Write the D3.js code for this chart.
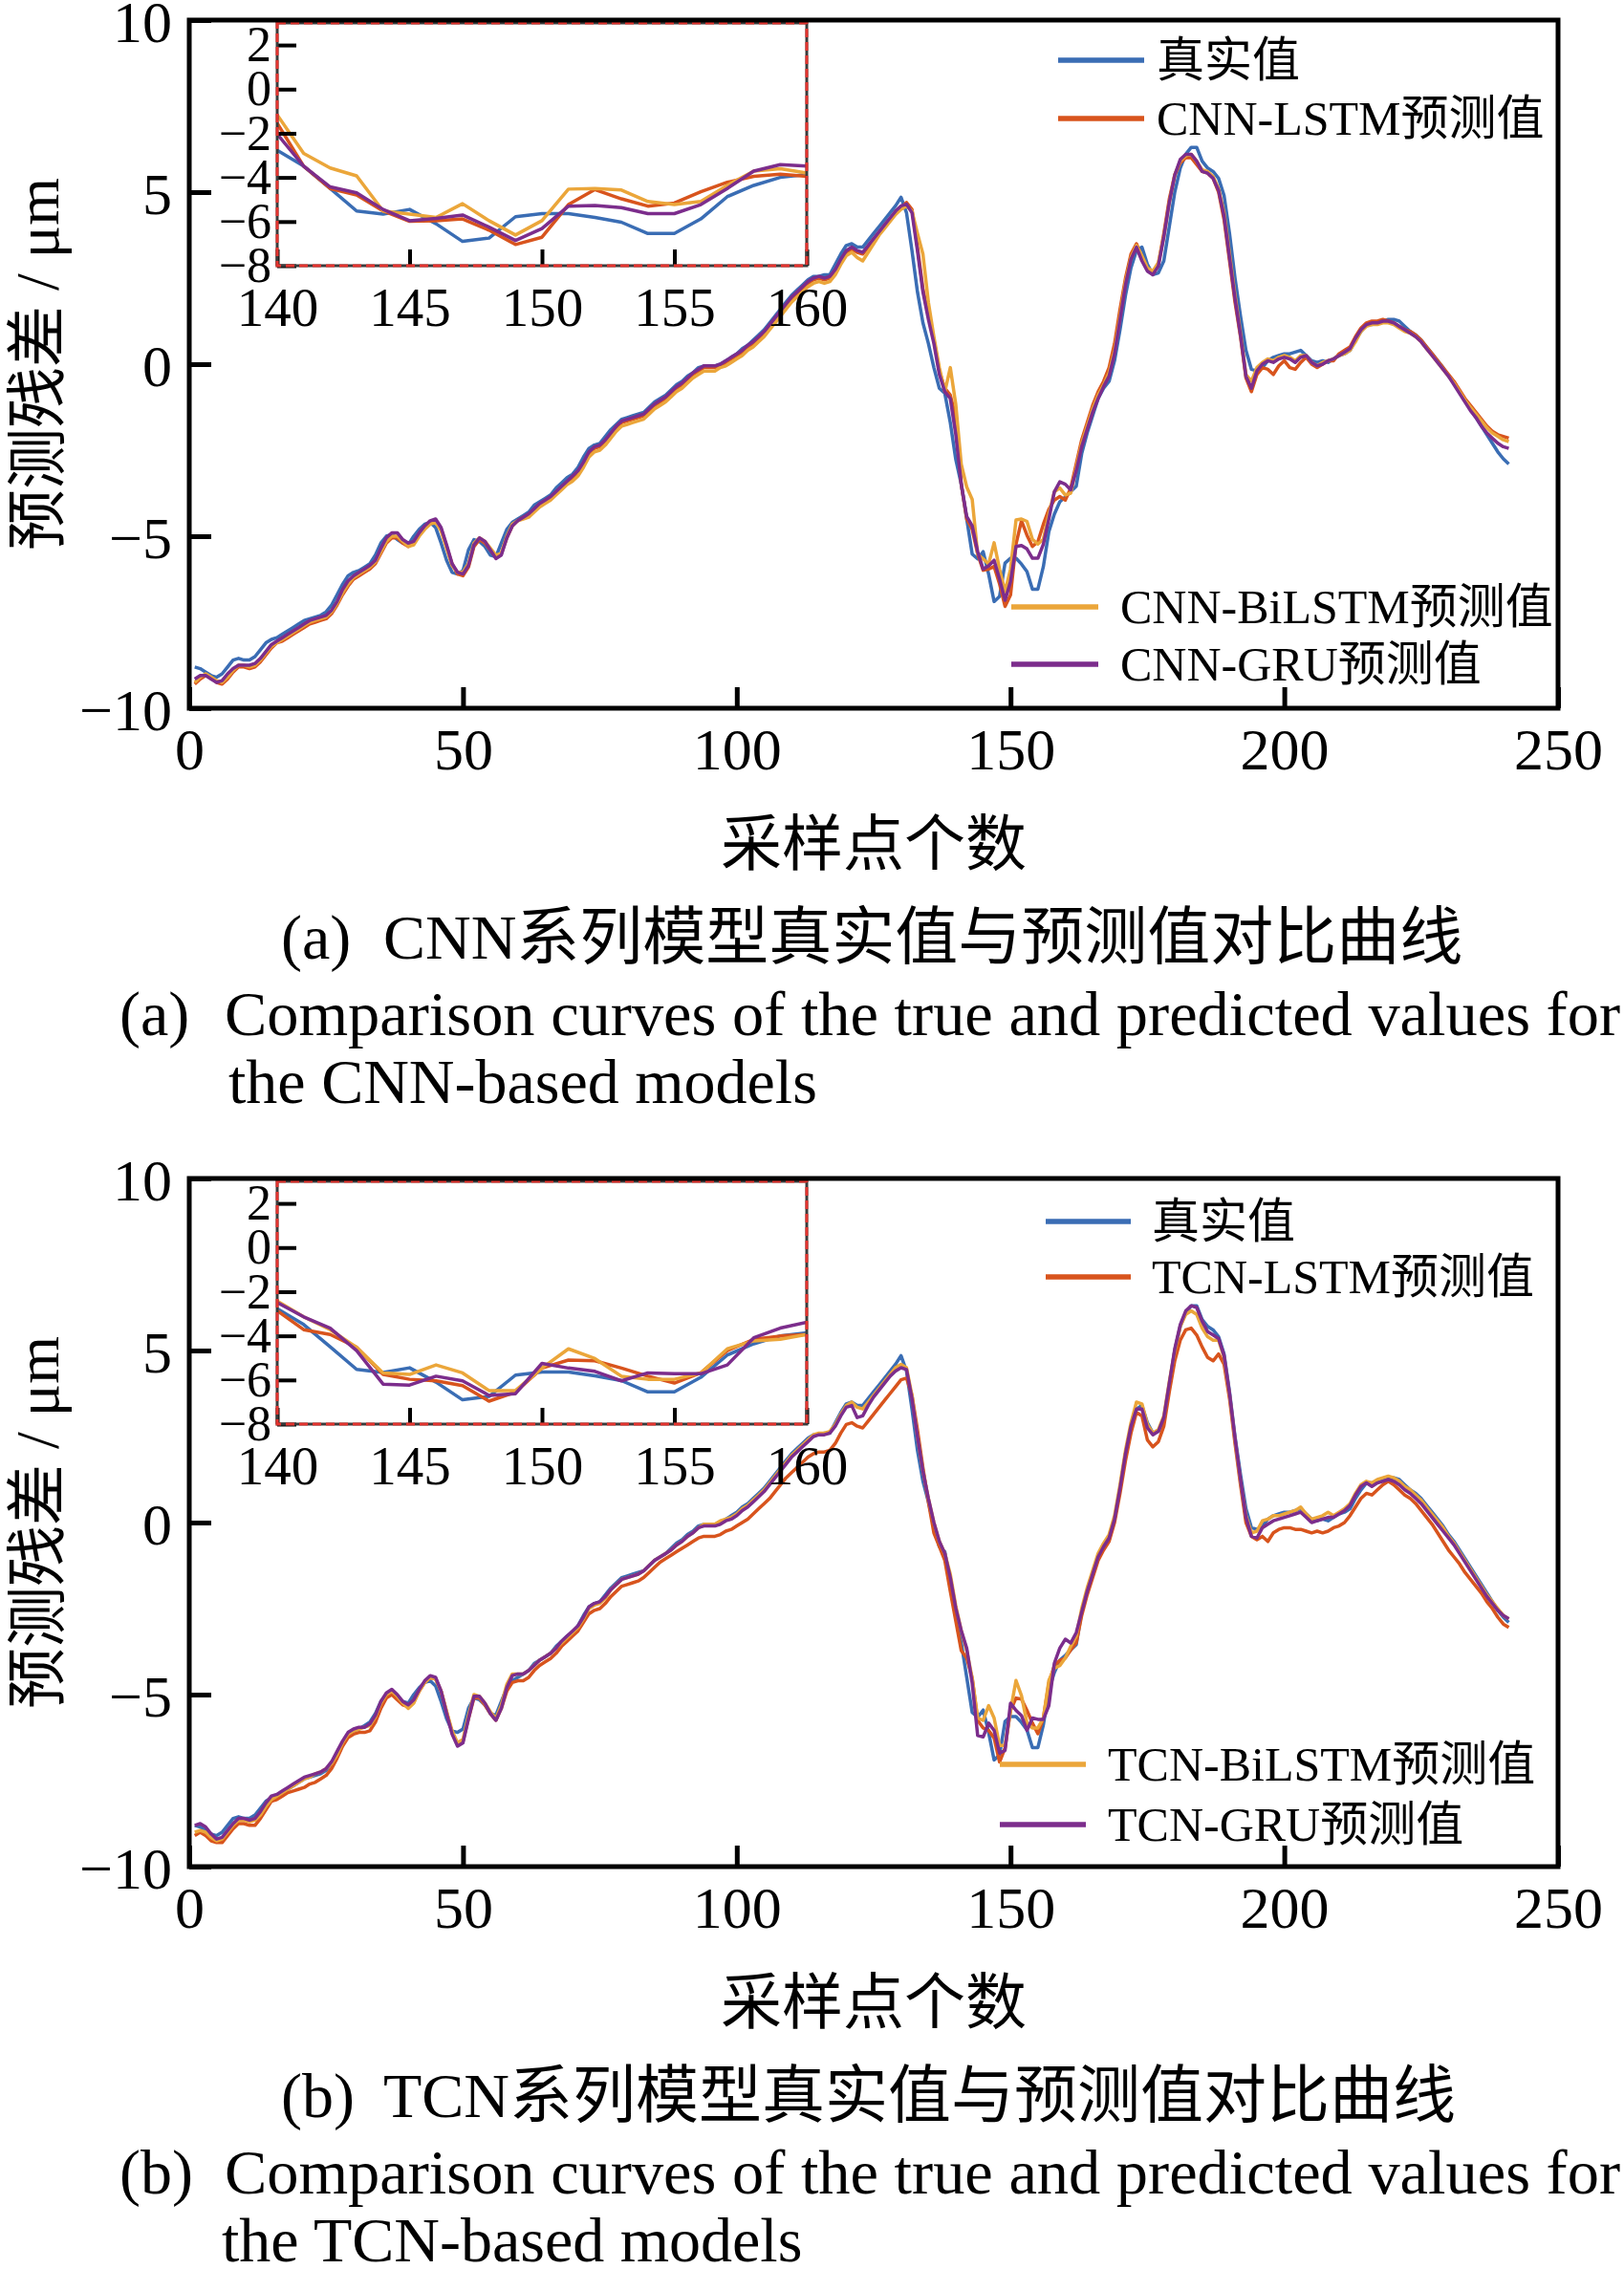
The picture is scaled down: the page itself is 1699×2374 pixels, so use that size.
<!DOCTYPE html>
<html>
<head>
<meta charset="utf-8">
<script src="https://cdn.jsdelivr.net/npm/d3@7"></script>
<style>
  body { margin: 0; background: #fff; }
  svg { display: block; }
</style>
</head>
<body>
<div id="chart"></div>
<script>
// 真实值 (shared by both panels), sample points 1..241
var truth = [
  -8.80,-8.85,-8.95,-9.05,-9.10,-9.00,-8.80,-8.60,-8.55,-8.60,
  -8.60,-8.50,-8.30,-8.10,-8.00,-7.95,-7.85,-7.75,-7.65,-7.55,
  -7.45,-7.40,-7.35,-7.30,-7.20,-7.00,-6.70,-6.40,-6.15,-6.05,
  -6.00,-5.90,-5.80,-5.55,-5.20,-5.00,-4.95,-5.10,-5.20,-5.25,
  -5.00,-4.80,-4.65,-4.60,-4.75,-5.20,-5.70,-6.05,-6.10,-6.00,
  -5.40,-5.10,-5.15,-5.30,-5.55,-5.60,-5.20,-4.80,-4.60,-4.50,
  -4.40,-4.30,-4.10,-4.00,-3.90,-3.80,-3.60,-3.45,-3.30,-3.20,
  -3.00,-2.70,-2.45,-2.35,-2.30,-2.10,-1.90,-1.75,-1.60,-1.55,
  -1.50,-1.45,-1.40,-1.25,-1.10,-1.00,-0.90,-0.75,-0.60,-0.50,
  -0.35,-0.25,-0.10,-0.05,-0.05,-0.05,0.00,0.10,0.20,0.30,
  0.45,0.55,0.70,0.85,1.00,1.20,1.40,1.60,1.80,2.00,
  2.15,2.30,2.45,2.55,2.55,2.60,2.60,2.90,3.20,3.45,
  3.50,3.40,3.40,3.60,3.80,4.00,4.20,4.40,4.60,4.85,
  4.40,3.30,2.10,1.20,0.60,-0.10,-0.70,-0.85,-1.70,-2.77,
  -3.49,-4.50,-5.52,-5.66,-5.45,-6.10,-6.90,-6.75,-5.78,-5.64,
  -5.64,-5.81,-6.03,-6.54,-6.54,-5.88,-4.87,-4.36,-4.00,-3.86,
  -3.70,-3.55,-2.60,-2.00,-1.50,-1.00,-0.70,-0.50,0.10,1.00,
  2.00,2.80,3.30,3.40,2.90,2.60,2.65,3.00,4.00,5.00,
  5.70,6.10,6.30,6.30,5.90,5.70,5.60,5.40,4.90,3.80,
  2.50,1.40,0.40,-0.15,-0.20,-0.10,0.10,0.20,0.25,0.30,
  0.30,0.35,0.40,0.25,0.10,0.05,0.10,0.05,0.15,0.25,
  0.30,0.40,0.70,0.95,1.15,1.15,1.20,1.25,1.30,1.30,
  1.25,1.10,0.95,0.85,0.70,0.50,0.30,0.10,-0.10,-0.35,
  -0.55,-0.80,-1.05,-1.30,-1.55,-1.80,-2.05,-2.30,-2.55,-2.75,
  -2.90
];

var cnnLstm = [
  -9.30,-9.15,-9.05,-9.10,-9.25,-9.30,-9.15,-8.95,-8.80,-8.80,
  -8.85,-8.80,-8.65,-8.45,-8.25,-8.10,-8.05,-7.95,-7.85,-7.75,
  -7.65,-7.55,-7.50,-7.45,-7.40,-7.25,-7.00,-6.70,-6.45,-6.25,
  -6.15,-6.05,-5.95,-5.80,-5.50,-5.20,-5.05,-5.05,-5.20,-5.30,
  -5.20,-4.95,-4.75,-4.60,-4.55,-4.80,-5.30,-5.80,-6.10,-6.15,
  -5.90,-5.30,-5.10,-5.20,-5.40,-5.60,-5.50,-5.05,-4.70,-4.55,
  -4.45,-4.40,-4.25,-4.10,-4.00,-3.90,-3.75,-3.60,-3.45,-3.30,
  -3.15,-2.90,-2.60,-2.45,-2.40,-2.25,-2.05,-1.85,-1.70,-1.65,
  -1.60,-1.55,-1.50,-1.35,-1.20,-1.10,-1.00,-0.85,-0.70,-0.60,
  -0.45,-0.30,-0.20,-0.10,-0.10,-0.10,-0.05,0.05,0.15,0.25,
  0.35,0.50,0.60,0.75,0.90,1.10,1.30,1.50,1.70,1.90,
  2.05,2.20,2.35,2.45,2.50,2.45,2.50,2.70,3.00,3.25,
  3.35,3.25,3.20,3.40,3.60,3.80,4.00,4.20,4.40,4.55,
  4.70,4.50,3.40,2.20,1.40,0.70,-0.20,-0.70,-0.90,-1.54,
  -3.49,-4.50,-4.80,-5.52,-5.99,-5.96,-5.88,-6.39,-7.04,-6.71,
  -5.23,-4.55,-4.97,-5.30,-5.16,-4.65,-4.22,-3.95,-3.85,-3.95,
  -3.60,-2.90,-2.20,-1.70,-1.20,-0.80,-0.50,-0.10,0.60,1.60,
  2.50,3.20,3.50,3.10,2.75,2.65,2.90,3.80,4.80,5.50,
  5.85,6.00,6.00,5.80,5.60,5.55,5.40,5.00,4.20,3.00,
  1.80,0.80,-0.40,-0.80,-0.30,-0.10,-0.15,-0.30,-0.05,0.10,
  -0.10,-0.15,0.05,0.20,0.00,-0.10,0.00,0.10,0.10,0.30,
  0.40,0.50,0.80,1.05,1.20,1.25,1.25,1.30,1.25,1.20,
  1.10,1.00,0.95,0.85,0.70,0.50,0.30,0.10,-0.10,-0.30,
  -0.50,-0.75,-1.00,-1.20,-1.40,-1.60,-1.80,-1.95,-2.05,-2.10,
  -2.15
];

var cnnBilstm = [
  -9.25,-9.10,-9.00,-9.10,-9.20,-9.25,-9.10,-8.90,-8.75,-8.75,
  -8.80,-8.75,-8.60,-8.40,-8.20,-8.10,-8.00,-7.90,-7.80,-7.70,
  -7.60,-7.50,-7.45,-7.40,-7.35,-7.20,-6.95,-6.65,-6.40,-6.20,
  -6.10,-6.00,-5.90,-5.75,-5.45,-5.15,-5.00,-5.00,-5.15,-5.30,
  -5.25,-5.00,-4.80,-4.65,-4.60,-4.85,-5.35,-5.85,-6.05,-6.05,
  -5.80,-5.20,-5.05,-5.15,-5.35,-5.55,-5.50,-5.00,-4.65,-4.55,
  -4.50,-4.45,-4.30,-4.15,-4.05,-3.95,-3.80,-3.65,-3.50,-3.40,
  -3.25,-3.00,-2.70,-2.55,-2.50,-2.35,-2.15,-1.95,-1.80,-1.75,
  -1.70,-1.65,-1.60,-1.45,-1.30,-1.20,-1.10,-0.95,-0.80,-0.70,
  -0.55,-0.40,-0.30,-0.20,-0.20,-0.20,-0.10,-0.05,0.05,0.15,
  0.25,0.40,0.50,0.65,0.80,1.00,1.20,1.40,1.60,1.80,
  1.95,2.10,2.25,2.35,2.40,2.35,2.40,2.60,2.90,3.15,
  3.25,3.10,3.00,3.25,3.50,3.75,3.95,4.15,4.35,4.50,
  4.60,4.45,3.80,3.20,1.80,0.80,-0.10,-0.80,-0.10,-1.17,
  -2.91,-3.57,-3.93,-5.52,-5.66,-5.81,-5.19,-5.96,-6.61,-5.96,
  -4.53,-4.50,-4.57,-5.09,-5.23,-5.09,-4.36,-3.71,-3.60,-3.80,
  -3.75,-3.00,-2.30,-1.80,-1.30,-0.90,-0.60,-0.25,0.40,1.40,
  2.40,3.10,3.45,3.15,2.80,2.70,2.95,3.70,4.70,5.50,
  5.90,6.05,6.10,5.90,5.65,5.60,5.45,5.10,4.40,3.20,
  2.00,0.90,-0.30,-0.50,-0.10,0.05,0.15,0.10,0.20,0.25,
  0.20,0.10,0.25,0.25,0.05,-0.05,0.05,0.10,0.15,0.25,
  0.30,0.40,0.65,0.95,1.10,1.15,1.15,1.20,1.20,1.15,
  1.05,0.95,0.90,0.80,0.65,0.45,0.25,0.05,-0.15,-0.35,
  -0.55,-0.80,-1.05,-1.25,-1.45,-1.65,-1.85,-2.00,-2.10,-2.20,
  -2.25
];

var cnnGru = [
  -9.15,-9.05,-9.05,-9.15,-9.25,-9.20,-9.00,-8.85,-8.75,-8.75,
  -8.75,-8.70,-8.55,-8.35,-8.15,-8.05,-7.95,-7.85,-7.75,-7.65,
  -7.55,-7.45,-7.40,-7.35,-7.30,-7.15,-6.90,-6.55,-6.30,-6.15,
  -6.05,-5.95,-5.85,-5.70,-5.35,-5.05,-4.90,-4.90,-5.10,-5.20,
  -5.15,-4.90,-4.70,-4.55,-4.50,-4.75,-5.25,-5.80,-6.05,-6.10,
  -5.85,-5.25,-5.05,-5.15,-5.40,-5.65,-5.55,-5.05,-4.70,-4.55,
  -4.45,-4.35,-4.20,-4.05,-3.95,-3.85,-3.70,-3.55,-3.40,-3.25,
  -3.10,-2.85,-2.55,-2.40,-2.35,-2.20,-2.00,-1.80,-1.65,-1.60,
  -1.55,-1.50,-1.45,-1.30,-1.15,-1.05,-0.95,-0.80,-0.65,-0.55,
  -0.40,-0.25,-0.15,-0.05,-0.05,-0.05,0.00,0.10,0.20,0.30,
  0.40,0.55,0.65,0.80,0.95,1.15,1.35,1.55,1.75,1.95,
  2.10,2.25,2.40,2.50,2.55,2.50,2.55,2.75,3.05,3.30,
  3.40,3.30,3.25,3.45,3.65,3.85,4.05,4.25,4.45,4.60,
  4.65,4.40,3.30,2.10,1.30,0.60,-0.30,-0.80,-1.00,-2.04,
  -3.49,-4.43,-4.70,-5.45,-5.96,-5.86,-5.70,-6.25,-6.86,-6.32,
  -5.30,-5.27,-5.37,-5.64,-5.64,-5.23,-4.50,-3.71,-3.42,-3.49,
  -3.65,-3.10,-2.40,-1.90,-1.40,-1.00,-0.65,-0.35,0.30,1.30,
  2.30,3.05,3.40,3.00,2.70,2.60,2.85,3.70,4.70,5.50,
  5.95,6.10,6.10,5.90,5.60,5.55,5.40,5.05,4.30,3.10,
  1.90,0.85,-0.35,-0.70,-0.20,0.00,0.10,0.05,0.15,0.20,
  0.15,0.05,0.20,0.25,0.05,-0.05,0.00,0.10,0.15,0.25,
  0.35,0.45,0.75,1.00,1.15,1.20,1.20,1.25,1.25,1.20,
  1.10,1.00,0.90,0.80,0.65,0.45,0.25,0.05,-0.15,-0.35,
  -0.60,-0.85,-1.10,-1.35,-1.55,-1.80,-2.00,-2.15,-2.30,-2.40,
  -2.45
];

var tcnLstm = [
  -9.10,-9.00,-9.10,-9.25,-9.30,-9.30,-9.10,-8.90,-8.75,-8.75,
  -8.80,-8.80,-8.60,-8.35,-8.10,-8.05,-7.95,-7.85,-7.80,-7.75,
  -7.70,-7.60,-7.55,-7.45,-7.35,-7.15,-6.85,-6.50,-6.25,-6.15,
  -6.10,-6.10,-6.05,-5.80,-5.40,-5.10,-5.00,-5.15,-5.30,-5.35,
  -5.20,-4.90,-4.65,-4.50,-4.55,-4.90,-5.50,-6.10,-6.45,-6.35,
  -5.70,-5.10,-5.10,-5.30,-5.55,-5.75,-5.40,-4.90,-4.65,-4.60,
  -4.60,-4.50,-4.30,-4.15,-4.05,-3.95,-3.80,-3.60,-3.45,-3.30,
  -3.15,-2.90,-2.65,-2.55,-2.50,-2.35,-2.15,-2.00,-1.85,-1.80,
  -1.75,-1.70,-1.60,-1.45,-1.30,-1.15,-1.05,-0.95,-0.85,-0.75,
  -0.65,-0.55,-0.45,-0.40,-0.40,-0.40,-0.35,-0.25,-0.20,-0.10,
  0.00,0.10,0.25,0.40,0.55,0.70,0.90,1.10,1.30,1.45,
  1.60,1.75,1.90,2.00,2.05,2.05,2.10,2.30,2.60,2.85,
  2.90,2.80,2.75,2.95,3.15,3.35,3.55,3.75,3.95,4.15,
  4.20,3.70,2.70,1.60,0.60,-0.30,-0.70,-1.10,-2.00,-2.86,
  -3.72,-3.94,-4.52,-5.75,-5.97,-6.04,-6.26,-6.96,-6.55,-5.46,
  -5.10,-5.13,-5.46,-5.83,-6.14,-5.68,-4.67,-4.16,-4.01,-3.94,
  -3.70,-3.50,-2.70,-2.10,-1.60,-1.10,-0.80,-0.55,0.00,0.85,
  1.80,2.60,3.20,3.10,2.40,2.20,2.35,2.80,3.80,4.70,
  5.30,5.60,5.65,5.45,5.10,4.80,4.70,4.90,4.60,3.60,
  2.30,1.10,0.00,-0.40,-0.50,-0.40,-0.55,-0.30,-0.20,-0.15,
  -0.15,-0.20,-0.20,-0.25,-0.30,-0.25,-0.30,-0.25,-0.15,-0.10,
  0.00,0.20,0.45,0.70,0.85,0.80,0.95,1.10,1.20,1.10,
  0.95,0.80,0.70,0.55,0.35,0.15,-0.05,-0.30,-0.55,-0.80,
  -1.00,-1.20,-1.45,-1.65,-1.85,-2.05,-2.30,-2.50,-2.75,-2.95,
  -3.05
];

var tcnBilstm = [
  -9.00,-8.95,-9.00,-9.15,-9.25,-9.20,-9.00,-8.80,-8.65,-8.65,
  -8.70,-8.65,-8.50,-8.25,-8.05,-7.95,-7.85,-7.75,-7.65,-7.55,
  -7.45,-7.40,-7.30,-7.25,-7.15,-7.00,-6.75,-6.40,-6.15,-6.05,
  -6.00,-5.95,-5.90,-5.65,-5.25,-5.00,-4.90,-5.05,-5.25,-5.40,
  -5.25,-4.90,-4.65,-4.50,-4.55,-4.90,-5.50,-6.05,-6.40,-6.30,
  -5.60,-5.00,-5.05,-5.25,-5.50,-5.70,-5.30,-4.70,-4.40,-4.40,
  -4.40,-4.30,-4.15,-4.00,-3.90,-3.80,-3.65,-3.50,-3.35,-3.20,
  -3.05,-2.80,-2.50,-2.40,-2.35,-2.20,-1.95,-1.80,-1.65,-1.60,
  -1.55,-1.50,-1.40,-1.25,-1.10,-1.00,-0.90,-0.80,-0.65,-0.55,
  -0.40,-0.30,-0.15,-0.05,-0.05,-0.05,0.05,0.10,0.15,0.25,
  0.40,0.50,0.65,0.80,0.95,1.15,1.35,1.55,1.75,1.95,
  2.10,2.25,2.40,2.55,2.60,2.60,2.65,2.85,3.15,3.40,
  3.50,3.35,3.30,3.50,3.70,3.90,4.10,4.30,4.50,4.60,
  4.50,3.70,2.50,1.50,0.70,0.00,-0.55,-0.90,-1.50,-2.42,
  -3.14,-3.72,-4.52,-5.68,-5.75,-5.32,-5.68,-6.48,-6.48,-5.46,
  -4.59,-5.03,-5.83,-5.97,-5.97,-5.68,-4.59,-4.23,-4.16,-3.94,
  -3.60,-3.30,-2.50,-1.90,-1.40,-0.90,-0.60,-0.35,0.20,1.10,
  2.10,2.90,3.50,3.45,2.85,2.60,2.70,3.10,4.10,5.00,
  5.70,6.05,6.15,6.05,5.65,5.40,5.30,5.30,4.80,3.70,
  2.40,1.20,0.20,-0.30,-0.25,0.05,0.10,0.20,0.20,0.25,
  0.30,0.35,0.45,0.25,0.10,0.15,0.20,0.30,0.20,0.30,
  0.40,0.55,0.85,1.10,1.20,1.15,1.25,1.30,1.35,1.30,
  1.20,1.05,0.95,0.80,0.65,0.45,0.25,0.05,-0.15,-0.40,
  -0.60,-0.85,-1.10,-1.35,-1.60,-1.85,-2.10,-2.30,-2.50,-2.70,
  -2.80
];

var tcnGru = [
  -8.80,-8.75,-8.85,-9.05,-9.20,-9.15,-8.95,-8.75,-8.60,-8.60,
  -8.65,-8.60,-8.40,-8.15,-7.95,-7.90,-7.80,-7.70,-7.60,-7.50,
  -7.40,-7.35,-7.30,-7.25,-7.15,-6.95,-6.65,-6.35,-6.10,-6.00,
  -5.95,-5.95,-5.85,-5.60,-5.20,-4.95,-4.85,-5.00,-5.20,-5.30,
  -5.15,-4.85,-4.60,-4.45,-4.50,-4.90,-5.55,-6.15,-6.50,-6.40,
  -5.70,-5.05,-5.05,-5.25,-5.55,-5.75,-5.40,-4.80,-4.45,-4.40,
  -4.40,-4.30,-4.15,-4.00,-3.90,-3.80,-3.65,-3.45,-3.30,-3.15,
  -3.00,-2.75,-2.45,-2.35,-2.30,-2.15,-1.95,-1.80,-1.65,-1.60,
  -1.55,-1.50,-1.40,-1.25,-1.10,-1.00,-0.90,-0.80,-0.65,-0.55,
  -0.40,-0.30,-0.15,-0.10,-0.10,-0.10,-0.05,0.05,0.10,0.20,
  0.35,0.45,0.60,0.75,0.90,1.10,1.30,1.50,1.70,1.90,
  2.05,2.20,2.35,2.50,2.55,2.55,2.60,2.80,3.10,3.35,
  3.40,3.05,3.10,3.40,3.65,3.85,4.05,4.25,4.40,4.50,
  4.45,3.60,2.50,1.50,0.70,0.00,-0.55,-0.90,-1.60,-2.49,
  -3.14,-3.65,-4.67,-6.19,-6.23,-5.83,-6.04,-6.70,-6.62,-5.25,
  -5.46,-5.61,-6.04,-5.68,-5.72,-5.72,-5.32,-4.09,-3.65,-3.39,
  -3.50,-3.20,-2.60,-2.00,-1.50,-1.00,-0.70,-0.45,0.10,1.00,
  2.00,2.80,3.30,3.30,2.75,2.55,2.65,3.05,4.05,5.05,
  5.75,6.15,6.30,6.25,5.85,5.55,5.45,5.35,4.85,3.75,
  2.45,1.25,0.15,-0.40,-0.45,-0.15,-0.05,0.05,0.10,0.15,
  0.20,0.25,0.30,0.15,0.00,0.05,0.10,0.15,0.15,0.25,
  0.35,0.50,0.80,1.05,1.15,1.05,1.15,1.20,1.25,1.20,
  1.10,0.95,0.85,0.70,0.55,0.35,0.15,-0.05,-0.25,-0.45,
  -0.65,-0.90,-1.15,-1.40,-1.65,-1.90,-2.15,-2.35,-2.55,-2.70,
  -2.80
];

var xTicks = [0, 50, 100, 150, 200, 250];
var yTicks = [-10, -5, 0, 5, 10];
var insetXTicks = [140, 145, 150, 155, 160];
var insetYTicks = [-8, -6, -4, -2, 0, 2];

var colors = ["#3a6db4", "#d8541d", "#eba63a", "#7c2d8c"];
var cnnNames = ["真实值", "CNN-LSTM预测值", "CNN-BiLSTM预测值", "CNN-GRU预测值"];
var tcnNames = ["真实值", "TCN-LSTM预测值", "TCN-BiLSTM预测值", "TCN-GRU预测值"];

var serif = "'Liberation Serif','Times New Roman','Noto Sans CJK SC',serif";
var W = 1699, H = 2374;

var svg = d3.select("#chart").append("svg")
  .attr("width", W)
  .attr("height", H)
  .style("background", "#fff");

var xs = truth.map(function(d, i) { return i + 1; });

function fmt(d) { return d < 0 ? "\u2212" + Math.abs(d) : String(d); }

function styleAxis(ax, size, width) {
  ax.select(".domain").remove();
  ax.selectAll("line").attr("stroke", "#000").attr("stroke-width", width);
  ax.selectAll("text").attr("font-family", serif).attr("font-size", size).attr("fill", "#000");
}

function drawPanel(oy, preds, names, leg, cap, tag) {
  var g = svg.append("g").attr("transform", "translate(0," + oy + ")");
  var series = [truth].concat(preds);

  var x = d3.scaleLinear().domain([0, 250]).range([198, 1630]);
  var y = d3.scaleLinear().domain([-10, 10]).range([741, 21]);

  g.append("clipPath").attr("id", "main" + tag)
    .append("rect").attr("x", 198).attr("y", 21).attr("width", 1432).attr("height", 720);

  var line = d3.line()
    .x(function(d, i) { return x(xs[i]); })
    .y(function(d) { return y(d); });

  g.append("g").attr("clip-path", "url(#main" + tag + ")")
    .selectAll("path").data(series).join("path")
    .attr("d", line)
    .attr("fill", "none")
    .attr("stroke", function(d, i) { return colors[i]; })
    .attr("stroke-width", 3.5)
    .attr("stroke-linejoin", "round");

  // inset (140..160)
  var ix = d3.scaleLinear().domain([140, 160]).range([290, 844]);
  var iy = d3.scaleLinear().domain([-8, 3]).range([278, 24]);

  g.append("rect").attr("x", 290).attr("y", 24).attr("width", 554).attr("height", 254).attr("fill", "#fff");
  g.append("clipPath").attr("id", "inset" + tag)
    .append("rect").attr("x", 290).attr("y", 24).attr("width", 554).attr("height", 254);

  var iline = d3.line()
    .x(function(d, i) { return ix(xs[i]); })
    .y(function(d) { return iy(d); });

  g.append("g").attr("clip-path", "url(#inset" + tag + ")")
    .selectAll("path").data(series).join("path")
    .attr("d", iline)
    .attr("fill", "none")
    .attr("stroke", function(d, i) { return colors[i]; })
    .attr("stroke-width", 3.5)
    .attr("stroke-linejoin", "round");

  var iya = g.append("g").attr("transform", "translate(290,0)")
    .call(d3.axisLeft(iy).tickValues(insetYTicks).tickSize(-20).tickPadding(6).tickFormat(fmt));
  styleAxis(iya, 52, 4);
  var ixa = g.append("g").attr("transform", "translate(0,278)")
    .call(d3.axisBottom(ix).tickValues(insetXTicks).tickSize(-17).tickPadding(23).tickFormat(fmt));
  styleAxis(ixa, 57, 4);

  g.append("rect").attr("x", 290).attr("y", 24).attr("width", 554).attr("height", 254)
    .attr("fill", "none").attr("stroke", "#3b3b3b").attr("stroke-width", 3);
  g.append("rect").attr("x", 290).attr("y", 24).attr("width", 554).attr("height", 254)
    .attr("fill", "none").attr("stroke", "#e3342f").attr("stroke-width", 3)
    .attr("stroke-dasharray", "9 5");

  // main axes
  var ya = g.append("g").attr("transform", "translate(198,0)")
    .call(d3.axisLeft(y).tickValues(yTicks).tickSize(-23).tickPadding(18).tickFormat(fmt));
  styleAxis(ya, 62, 5);
  ya.selectAll("text").attr("dy", "0.36em");
  var xa = g.append("g").attr("transform", "translate(0,741)")
    .call(d3.axisBottom(x).tickValues(xTicks).tickSize(-22).tickPadding(20).tickFormat(fmt));
  styleAxis(xa, 62, 5);

  g.append("rect").attr("x", 198).attr("y", 21).attr("width", 1432).attr("height", 720)
    .attr("fill", "none").attr("stroke", "#000").attr("stroke-width", 5);

  // legend
  var items = names.map(function(n, i) {
    var grp = i < 2 ? leg.top : leg.bot;
    return { name: n, color: colors[i], x1: grp.line[0], x2: grp.line[1], tx: grp.text, y: grp.ys[i % 2] };
  });
  var li = g.append("g").selectAll("g").data(items).join("g");
  li.append("line")
    .attr("x1", function(d) { return d.x1; }).attr("x2", function(d) { return d.x2; })
    .attr("y1", function(d) { return d.y; }).attr("y2", function(d) { return d.y; })
    .attr("stroke", function(d) { return d.color; }).attr("stroke-width", 5.5);
  li.append("text")
    .attr("x", function(d) { return d.tx; })
    .attr("y", function(d) { return d.y + 17; })
    .attr("font-family", serif).attr("font-size", 50).attr("fill", "#000")
    .text(function(d) { return d.name; });

  // axis titles
  g.append("text")
    .attr("transform", "translate(61,381) rotate(-90)")
    .attr("text-anchor", "middle")
    .attr("font-family", serif).attr("font-size", 64).attr("fill", "#000")
    .text("预测残差 / μm");
  g.append("text")
    .attr("x", 914).attr("y", 905)
    .attr("text-anchor", "middle")
    .attr("font-family", serif).attr("font-size", 64).attr("fill", "#000")
    .text("采样点个数");

  // captions
  var c = g.append("g").attr("font-family", serif).attr("font-size", 66).attr("fill", "#000");
  c.append("text").attr("x", 294).attr("y", 1003).text(cap.tag);
  c.append("text").attr("x", 401).attr("y", 1003).text(cap.zh);
  c.append("text").attr("x", 125).attr("y", 1083).text(cap.tag);
  c.append("text").attr("x", 235).attr("y", 1083)
    .attr("textLength", 1460).attr("lengthAdjust", "spacingAndGlyphs")
    .text(cap.en1);
  c.append("text").attr("x", cap.en2x).attr("y", 1154).text(cap.en2);
}

drawPanel(0, [cnnLstm, cnnBilstm, cnnGru], cnnNames,
  { top: { line: [1107, 1197], text: 1210, ys: [63, 124] },
    bot: { line: [1058, 1149], text: 1172, ys: [635, 695] } },
  { tag: "(a)", zh: "CNN系列模型真实值与预测值对比曲线",
    en1: "Comparison curves of the true and predicted values for",
    en2: "the CNN-based models", en2x: 239 }, "a");

drawPanel(1212, [tcnLstm, tcnBilstm, tcnGru], tcnNames,
  { top: { line: [1094, 1183], text: 1205, ys: [66, 124] },
    bot: { line: [1046, 1136], text: 1159, ys: [634, 697] } },
  { tag: "(b)", zh: "TCN系列模型真实值与预测值对比曲线",
    en1: "Comparison curves of the true and predicted values for",
    en2: "the TCN-based models", en2x: 232 }, "b");
</script>
</body>
</html>
